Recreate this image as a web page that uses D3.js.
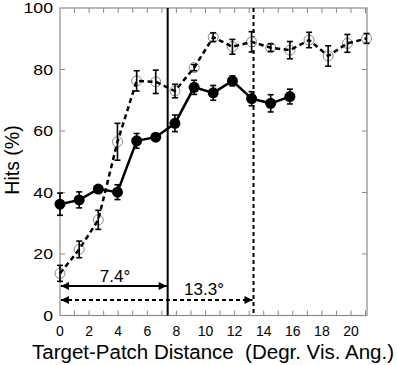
<!DOCTYPE html>
<html>
<head>
<meta charset="utf-8">
<script src="https://cdn.jsdelivr.net/npm/d3@7"></script>
<style>
  body { margin: 0; background: #fff; }
  text { font-family: "Liberation Sans", Arial, sans-serif; fill: #000; }
</style>
</head>
<body>
<svg id="chart" width="397" height="365"></svg>
<script>
// filled circles, solid line
var solidX = [0, 1.32, 2.63, 3.95, 5.27, 6.58, 7.9, 9.22, 10.53, 11.85, 13.17, 14.48, 15.8];
var solidY = [36.2, 37.6, 41.1, 40.1, 56.8, 58.0, 62.5, 74.2, 72.4, 76.3, 70.5, 69.0, 71.2];
var solidErr = [3.6, 2.6, 0.8, 2.4, 2.4, 0.8, 2.7, 2.3, 2.4, 1.6, 2.3, 2.8, 2.4];

// open circles, dashed line
var dashX = [0, 1.32, 2.63, 3.95, 5.27, 6.58, 7.9, 9.22, 10.53, 11.85, 13.17, 14.48, 15.8, 17.12, 18.43, 19.75, 21.07];
var dashY = [13.7, 21.5, 31.1, 56.5, 76.3, 76.0, 73.0, 80.6, 90.5, 87.4, 89.0, 87.1, 86.3, 89.6, 84.4, 88.5, 90.1];
var dashErr = [2.6, 2.7, 3.1, 6.0, 3.3, 3.8, 2.2, 1.0, 1.4, 2.4, 3.3, 1.2, 2.8, 2.5, 3.3, 2.9, 1.6];

var xTicks = [0, 2, 4, 6, 8, 10, 12, 14, 16, 18, 20];
var yTicks = [0, 20, 40, 60, 80, 100];
var markers = [{ at: 7.4, label: "7.4°", dash: null }, { at: 13.3, label: "13.3°", dash: "4,3" }];

var svg = d3.select("#chart");
var x = d3.scaleLinear().domain([0, 21.1]).range([60, 367]);
var y = d3.scaleLinear().domain([0, 100]).range([315.5, 8]);
var frameCol = "#8a8a8a";

// defs for arrowheads
var defs = svg.append("defs");
["arrEnd", "arrStart"].forEach(function(id, k){
  defs.append("marker")
      .attr("id", id)
      .attr("viewBox", "0 0 10 10")
      .attr("refX", k === 0 ? 10 : 0).attr("refY", 5)
      .attr("markerWidth", 13).attr("markerHeight", 8)
      .attr("markerUnits", "userSpaceOnUse")
      .attr("orient", "auto")
      .append("path")
      .attr("d", k === 0 ? "M0,0L10,5L0,10Z" : "M10,0L0,5L10,10Z")
      .attr("fill", "#000");
});

// frame
svg.append("rect")
   .attr("x", x(0)).attr("y", y(100))
   .attr("width", x(21.1) - x(0)).attr("height", y(0) - y(100))
   .attr("fill", "none").attr("stroke", frameCol).attr("stroke-width", 1.2);

// inward ticks every unit on top and bottom
var minorX = d3.range(1, 22);
svg.append("g").selectAll("line").data(minorX).enter().append("line")
   .attr("x1", d => x(d)).attr("x2", d => x(d))
   .attr("y1", y(0)).attr("y2", y(0) - 5)
   .attr("stroke", frameCol);
svg.append("g").selectAll("line").data(minorX).enter().append("line")
   .attr("x1", d => x(d)).attr("x2", d => x(d))
   .attr("y1", y(100)).attr("y2", y(100) + 5)
   .attr("stroke", frameCol);
// y ticks inward on left and right
svg.append("g").selectAll("line").data(yTicks.slice(1, 5)).enter().append("line")
   .attr("x1", x(0)).attr("x2", x(0) + 5)
   .attr("y1", d => y(d)).attr("y2", d => y(d))
   .attr("stroke", frameCol);
svg.append("g").selectAll("line").data(yTicks.slice(1, 5)).enter().append("line")
   .attr("x1", x(21.1)).attr("x2", x(21.1) - 5)
   .attr("y1", d => y(d)).attr("y2", d => y(d))
   .attr("stroke", frameCol);

// tick labels
svg.append("g").selectAll("text").data(xTicks).enter().append("text")
   .attr("x", d => x(d)).attr("y", 335.5)
   .attr("text-anchor", "middle").style("font-size", "14px")
   .text(d => d);
// y labels are drawn a bit wider than tall, as in the picture
svg.append("g").selectAll("text").data(yTicks).enter().append("text")
   .attr("transform", d => "translate(53," + (y(d) + 5.2) + ") scale(1.22,1)")
   .attr("text-anchor", "end").style("font-size", "14.5px")
   .text(d => d);

// axis titles
svg.append("text")
   .attr("x", 213).attr("y", 358.5)
   .attr("text-anchor", "middle").style("font-size", "20px")
   .style("white-space", "pre")
   .attr("textLength", 362).attr("lengthAdjust", "spacingAndGlyphs")
   .text("Target-Patch Distance  (Degr. Vis. Ang.)");
svg.append("text")
   .attr("transform", "translate(19,160) rotate(-90)")
   .attr("text-anchor", "middle").style("font-size", "19.5px")
   .text("Hits (%)");

// vertical reference lines + arrows
markers.forEach(function(m, k){
  svg.append("line")
     .attr("x1", x(m.at)).attr("x2", x(m.at))
     .attr("y1", y(100)).attr("y2", y(0))
     .attr("stroke", "#000").attr("stroke-width", 2)
     .attr("stroke-dasharray", m.dash);
  var ay = k === 0 ? 286 : 300;
  svg.append("line")
     .attr("x1", x(0) + 1).attr("x2", x(m.at) - 1)
     .attr("y1", ay).attr("y2", ay)
     .attr("stroke", "#000").attr("stroke-width", 2)
     .attr("stroke-dasharray", m.dash)
     .attr("marker-start", "url(#arrStart)")
     .attr("marker-end", "url(#arrEnd)");
  svg.append("text")
     .attr("x", k === 0 ? 115 : 204).attr("y", k === 0 ? 282 : 295)
     .attr("text-anchor", "middle").style("font-size", "17px")
     .text(m.label);
});

function drawSeries(xs, ys, es, dashed){
  var pts = xs.map((d, i) => ({ x: d, y: ys[i], e: es[i] }));
  var g = svg.append("g");
  if (dashed) {
    g.selectAll("circle").data(pts).enter().append("circle")
     .attr("cx", d => x(d.x)).attr("cy", d => y(d.y)).attr("r", 5)
     .attr("fill", "#fff").attr("stroke", "#888").attr("stroke-width", 1);
  }
  g.append("path").datum(pts)
   .attr("d", d3.line().x(d => x(d.x)).y(d => y(d.y)))
   .attr("fill", "none").attr("stroke", "#000").attr("stroke-width", 2.5)
   .attr("stroke-dasharray", dashed ? "5,3.5" : null);
  var eb = g.selectAll(".eb").data(pts).enter().append("g");
  eb.append("line")
    .attr("x1", d => x(d.x)).attr("x2", d => x(d.x))
    .attr("y1", d => y(d.y - d.e)).attr("y2", d => y(d.y + d.e))
    .attr("stroke", "#000").attr("stroke-width", 1.6);
  [-1, 1].forEach(function(s){
    eb.append("line")
      .attr("x1", d => x(d.x) - 3).attr("x2", d => x(d.x) + 3)
      .attr("y1", d => y(d.y + s * d.e)).attr("y2", d => y(d.y + s * d.e))
      .attr("stroke", "#000").attr("stroke-width", 1.6);
  });
  if (!dashed) {
    g.selectAll("circle").data(pts).enter().append("circle")
     .attr("cx", d => x(d.x)).attr("cy", d => y(d.y)).attr("r", 5.5)
     .attr("fill", "#000");
  }
}

drawSeries(dashX, dashY, dashErr, true);
drawSeries(solidX, solidY, solidErr, false);
</script>
</body>
</html>
